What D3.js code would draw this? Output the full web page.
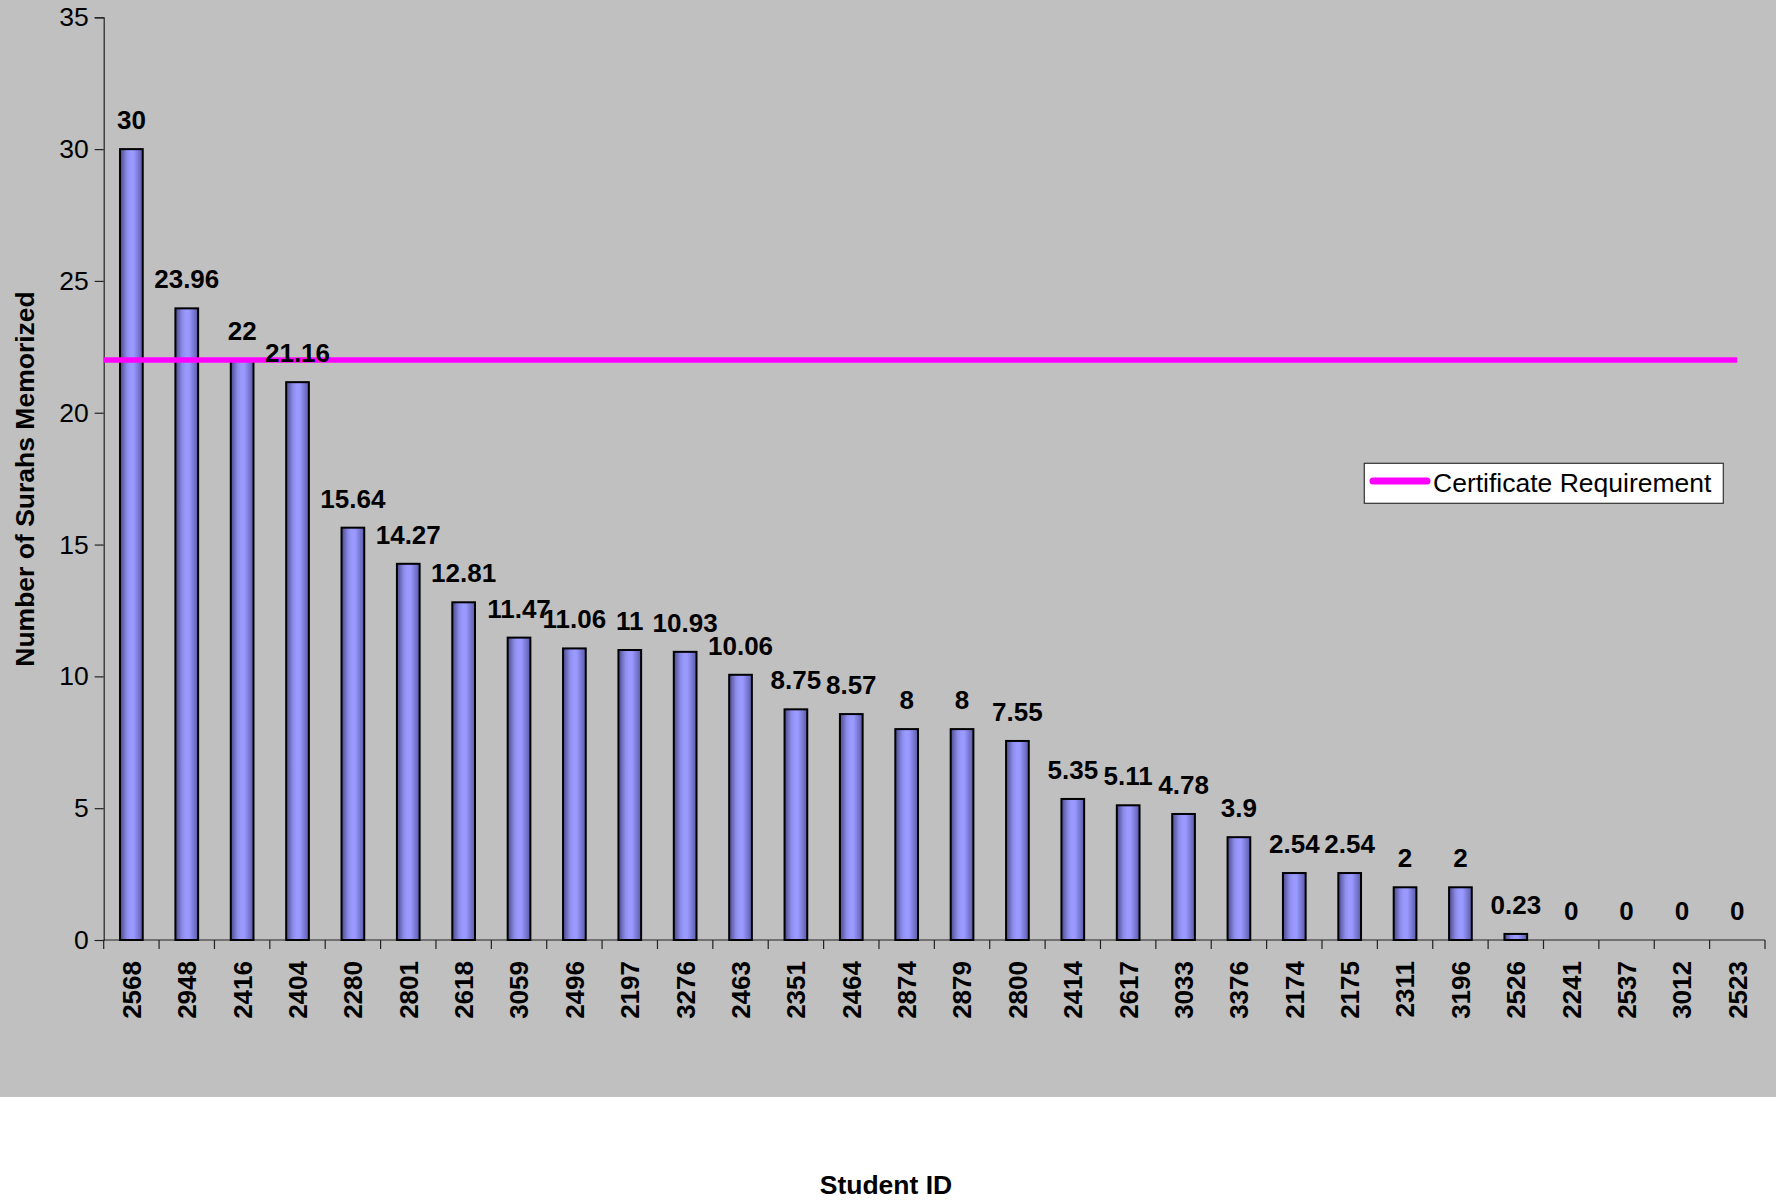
<!DOCTYPE html>
<html><head><meta charset="utf-8">
<script src="https://cdn.jsdelivr.net/npm/d3@7"></script>
<style>body{margin:0;background:#fff}svg{display:block}</style>
</head><body>
<svg id="c" width="1776" height="1201"></svg>
<script>
const studentIds = ["2568","2948","2416","2404","2280","2801","2618","3059","2496","2197","3276","2463","2351","2464","2874","2879","2800","2414","2617","3033","3376","2174","2175","2311","3196","2526","2241","2537","3012","2523"];
const surahs = [30,23.96,22,21.16,15.64,14.27,12.81,11.47,11.06,11,10.93,10.06,8.75,8.57,8,8,7.55,5.35,5.11,4.78,3.9,2.54,2.54,2,2,0.23,0,0,0,0];
const requirement = 22;
const yTicks = [0,5,10,15,20,25,30,35];
const legendLabel = "Certificate Requirement";
const xTitle = "Student ID";
const yTitle = "Number of Surahs Memorized";

const svg = d3.select("#c");
const F = "'Liberation Sans', Arial, sans-serif";
const L = 103.7, R = 1765, T = 17.3, B = 940;

svg.append("rect").attr("x",0).attr("y",0).attr("width",1776).attr("height",1097).attr("fill","#c0c0c0");

const defs = svg.append("defs");
const g = defs.append("linearGradient").attr("id","bg").attr("x1","0").attr("x2","1").attr("y1","0").attr("y2","0");
[[0,"#4a4a8c"],[0.3,"#8c8ce8"],[0.45,"#9999ff"],[0.6,"#9999ff"],[1,"#5a5aa8"]].forEach(([o,c])=>g.append("stop").attr("offset",o).attr("stop-color",c));

const x = d3.scaleBand().domain(studentIds).range([L,R]).paddingInner(0).paddingOuter(0);
const y = d3.scaleLinear().domain([0,35]).range([B,T]);
const bw = x.bandwidth()*0.41;

// y axis
const ya = svg.append("g").attr("transform",`translate(${L},0)`)
  .call(d3.axisLeft(y).tickValues(yTicks).tickSize(9).tickPadding(6).tickFormat(d3.format("d")));
ya.select(".domain").attr("stroke","#222").attr("stroke-width",1.2);
ya.selectAll(".tick line").attr("stroke","#222").attr("stroke-width",1.2);
ya.selectAll(".tick text").attr("font-family",F).attr("font-size",26.5).attr("fill","#000");

// x axis line and ticks at band boundaries
svg.append("line").attr("x1",L).attr("x2",R).attr("y1",B).attr("y2",B).attr("stroke","#222").attr("stroke-width",1.2);
const bounds = studentIds.map(d=>x(d)).concat([R]);
svg.append("g").selectAll("line").data(bounds).join("line")
  .attr("x1",d=>d).attr("x2",d=>d).attr("y1",B).attr("y2",B+9).attr("stroke","#222").attr("stroke-width",1.2);

// bars
svg.append("g").selectAll("rect").data(surahs).join("rect")
  .attr("x",(d,i)=>x(studentIds[i])+x.bandwidth()/2-bw/2)
  .attr("y",d=>y(d))
  .attr("width",bw)
  .attr("height",d=>B-y(d))
  .attr("fill","url(#bg)")
  .attr("stroke","#000").attr("stroke-width",2)
  .attr("display",d=>d>0?null:"none");

// requirement line
svg.append("line")
  .attr("x1",L).attr("x2",x(studentIds[studentIds.length-1])+x.bandwidth()/2)
  .attr("y1",y(requirement)).attr("y2",y(requirement))
  .attr("stroke","#ff00ff").attr("stroke-width",5.5);

// data labels
svg.append("g").selectAll("text").data(surahs).join("text")
  .attr("x",(d,i)=>x(studentIds[i])+x.bandwidth()/2)
  .attr("y",d=>y(d)-20)
  .attr("text-anchor","middle")
  .attr("font-family",F).attr("font-weight","bold").attr("font-size",26)
  .text(d=>d);

// category labels
svg.append("g").selectAll("text").data(studentIds).join("text")
  .attr("transform",d=>`translate(${x(d)+x.bandwidth()/2},961) rotate(-90)`)
  .attr("text-anchor","end").attr("dy","0.36em")
  .attr("font-family",F).attr("font-weight","bold").attr("font-size",26)
  .text(d=>d);

// axis titles
svg.append("text").attr("x",886).attr("y",1194).attr("text-anchor","middle")
  .attr("font-family",F).attr("font-weight","bold").attr("font-size",26.5).text(xTitle);
svg.append("text").attr("transform","translate(24,479) rotate(-90)").attr("text-anchor","middle").attr("dy","0.36em")
  .attr("font-family",F).attr("font-weight","bold").attr("font-size",26.5).text(yTitle);

// legend
const lg = svg.append("g");
lg.append("rect").attr("x",1364.3).attr("y",463.3).attr("width",359).attr("height",40).attr("fill","#fff").attr("stroke","#333").attr("stroke-width",1.2);
lg.append("line").attr("x1",1373).attr("x2",1427).attr("y1",481).attr("y2",481).attr("stroke","#ff00ff").attr("stroke-width",7).attr("stroke-linecap","round");
lg.append("text").attr("x",1433).attr("y",492).attr("font-family",F).attr("font-size",26.5).text(legendLabel);
</script>
</body></html>
